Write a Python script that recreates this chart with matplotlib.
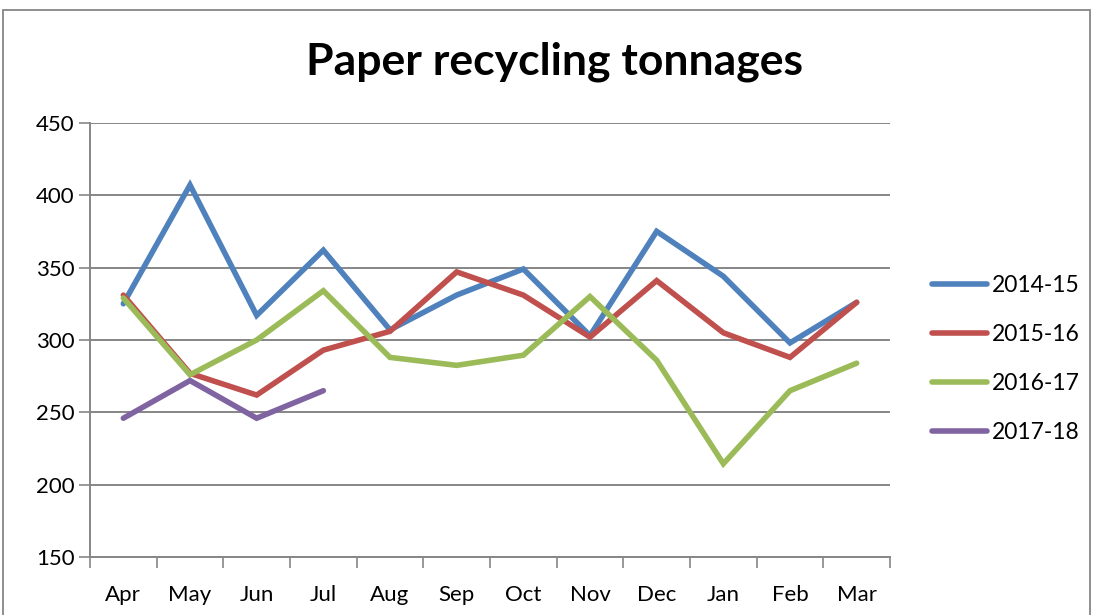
import matplotlib
matplotlib.use("Agg")
import matplotlib.pyplot as plt
from matplotlib.patches import Rectangle

plt.rcParams['font.family'] = ['Lato', 'DejaVu Sans']

months = ["Apr", "May", "Jun", "Jul", "Aug", "Sep", "Oct", "Nov", "Dec", "Jan", "Feb", "Mar"]
s2014_15 = [325, 407, 317, 362, 307, 331, 349, 303, 375, 344, 298, 326]
s2015_16 = [331, 277, 262, 293, 306, 347, 331, 302, 341, 305, 288, 326]
s2016_17 = [329, 276, 300, 334, 288, 282.5, 289.5, 330, 286, 214.6, 265, 284]
s2017_18 = [246, 272, 246, 265]
series = [("2014-15", s2014_15, "#4F81BD"),
          ("2015-16", s2015_16, "#C0504D"),
          ("2016-17", s2016_17, "#9BBB59"),
          ("2017-18", s2017_18, "#8064A2")]

fig = plt.figure(figsize=(10.94, 6.15), dpi=100)
ax = fig.add_axes([90/1094, 1-557.3/615, 800/1094, 434.6/615])

grid_c = "#868686"
x = list(range(len(months)))
for name, vals, c in series:
    ax.plot(x[:len(vals)], vals, color=c, lw=4.0, label=name, solid_capstyle='round', solid_joinstyle='miter')

ax.set_xlim(-0.5, 11.5)
ax.set_ylim(150, 450)
ax.set_yticks(range(150, 451, 50))
ax.set_xticks(x)
ax.set_xticklabels(months)
ax.set_xticks([i - 0.5 for i in range(13)], minor=True)
ax.tick_params(axis='x', which='major', length=0, pad=20, labelsize=16)
ax.tick_params(axis='x', which='minor', length=8, width=1.2, color=grid_c)
ax.tick_params(axis='y', length=8, width=1.2, color=grid_c, labelsize=16, pad=3)
ax.yaxis.grid(True, color=grid_c, lw=1.4)
ax.set_axisbelow(True)
for s in ["top", "right"]:
    ax.spines[s].set_visible(False)
for s in ["left", "bottom"]:
    ax.spines[s].set_color(grid_c)
    ax.spines[s].set_linewidth(1.4)

fig.text(555/1094, 1-62/615, "Paper recycling tonnages", ha='center', va='center',
         fontsize=32, fontweight='bold')

leg = ax.legend(loc='center left', bbox_to_anchor=(921/1094, 1-359/615),
                bbox_transform=fig.transFigure, frameon=False, fontsize=16.5,
                handlelength=2.4, handletextpad=0.2, labelspacing=1.23, borderpad=0)

fig.patches.append(Rectangle((3/1094, -0.1), 1087/1094, 1.1 - 10/615 + 0.0,
                             transform=fig.transFigure, fill=False, edgecolor=grid_c, lw=1.3))

fig.savefig("out.png", dpi=100)
